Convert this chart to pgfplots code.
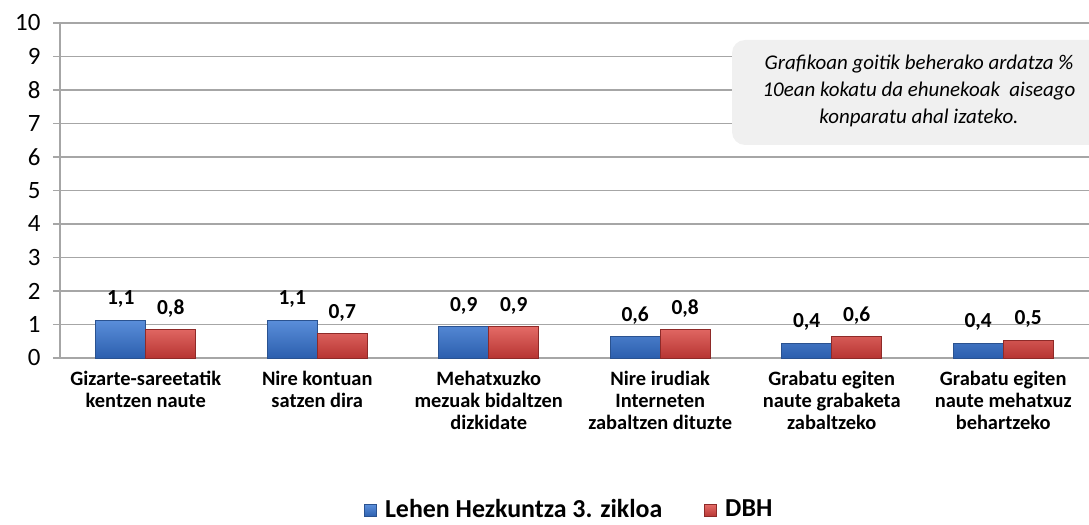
\documentclass[border=0pt]{standalone}
\usepackage{pgfplots}
\pgfplotsset{compat=1.18}
\usepackage{pgfplotstable}
\usepackage{fontspec}
\setmainfont{Carlito}

\definecolor{blueedge}{HTML}{2A5290}
\definecolor{bluetop}{HTML}{5A8EDA}
\definecolor{bluebot}{HTML}{2C5FAE}
\definecolor{rededge}{HTML}{8E2A28}
\definecolor{redtop}{HTML}{E36A66}
\definecolor{redbot}{HTML}{B73532}
\definecolor{gridgray}{HTML}{A6A6A6}
\definecolor{notegray}{HTML}{F0F0F0}

% values; labels are rounded to one decimal
\pgfplotstableread{
x lh dbh
0 1.13 0.84
1 1.13 0.72
2 0.93 0.93
3 0.63 0.84
4 0.44 0.63
5 0.44 0.53
}\datatable

\begin{document}
\begin{tikzpicture}
\begin{axis}[
    scale only axis,
    width=1029bp, height=335bp,
    ybar=0pt, bar width=50bp,
    xmin=-0.5, xmax=5.5,
    ymin=0, ymax=10,
    axis x line*=bottom,
    axis y line*=left,
    ytick={0,1,...,10},
    xtick={0,...,5},
    xticklabels={
        Gizarte-sareetatik\\kentzen naute,
        Nire kontuan\\satzen dira,
        Mehatxuzko\\mezuak bidaltzen\\dizkidate,
        Nire irudiak\\Interneten\\zabaltzen dituzte,
        Grabatu egiten\\naute grabaketa\\zabaltzeko,
        Grabatu egiten\\naute mehatxuz\\behartzeko},
    x tick style={draw=none},
    extra x ticks={-0.5,0.5,...,5.5},
    extra x tick labels={},
    extra x tick style={major tick length=7bp, tick style={draw=gridgray, line width=1.2bp}},
    xticklabel style={align=center, font=\fontsize{20.5}{22}\selectfont\bfseries, yshift=-3bp},
    /pgf/number format/assume math mode=true,
    tick align=outside,
    major tick length=7bp,
    y tick style={draw=gridgray, line width=1.2bp},
    axis line style={draw=gridgray, line width=1.4bp},
    ymajorgrids,
    grid style={draw=gridgray, line width=1.4bp},
    yticklabel={\fontsize{25}{27}\selectfont\pgfmathprintnumber{\tick}},
    yticklabel shift=9bp,
    nodes near coords,
    nodes near coords style={font=\fontsize{21.5}{23}\selectfont\bfseries, anchor=south, yshift=9bp,
        /pgf/number format/.cd, fixed, precision=1, fixed zerofill, use comma},
    legend columns=2,
    legend style={draw=none, fill=none, at={(0.495,-0.45)}, anchor=center,
        font=\fontsize{26}{28}\selectfont\bfseries,
        /tikz/every even column/.append style={column sep=40bp}},
    legend image code/.code={\draw[#1] (0bp,-8bp) rectangle (12bp,4bp); \path (18bp,0bp);},
]
\addplot[draw=blueedge, line width=0.8bp, top color=bluetop, bottom color=bluebot] table[x=x, y=lh] {\datatable};
\addplot[draw=rededge, line width=0.8bp, top color=redtop, bottom color=redbot] table[x=x, y=dbh] {\datatable};
\legend{Lehen Hezkuntza 3. zikloa, DBH}
\end{axis}
\fill[notegray, rounded corners=13bp] (672bp,213bp) rectangle (1060bp,318bp);
\node[align=center, font=\fontsize{21}{27}\selectfont\itshape] at (859bp,267bp)
    {Grafikoan goitik beherako ardatza \%\\10ean kokatu da ehunekoak\ \ aiseago\\konparatu ahal izateko.};
\pgfresetboundingbox
\useasboundingbox (-60bp,-167bp) rectangle (1029bp,358bp);
\end{tikzpicture}
\end{document}
